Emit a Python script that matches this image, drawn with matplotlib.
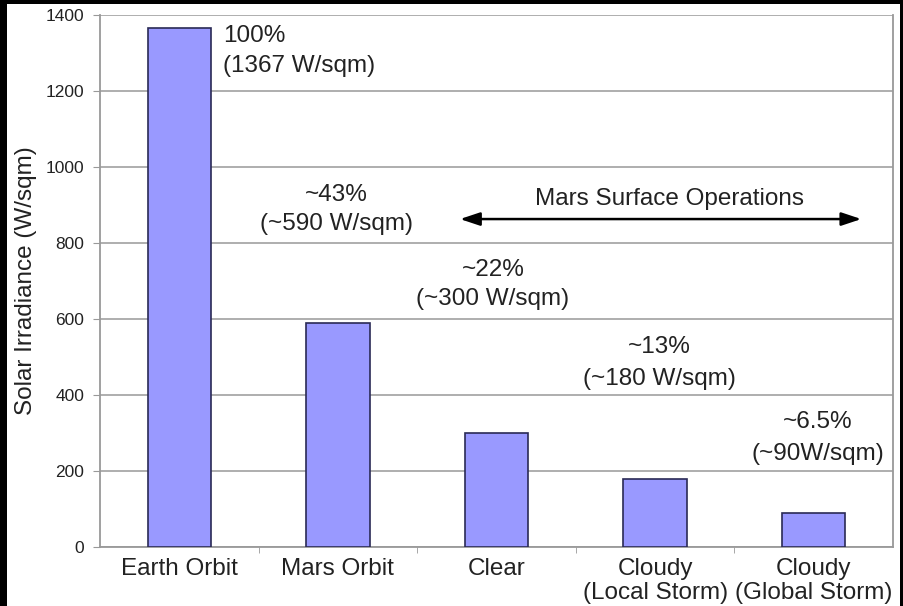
import matplotlib.pyplot as plt
from matplotlib.patches import Rectangle

plt.rcParams['font.family'] = ['Liberation Sans', 'DejaVu Sans']

# bar data
categories = ['Earth Orbit', 'Mars Orbit', 'Clear', 'Cloudy\n(Local Storm)', 'Cloudy\n(Global Storm)']
irradiance = [1367, 590, 300, 180, 90]
pct_labels = ['100%', '~43%', '~22%', '~13%', '~6.5%']
wsqm_labels = ['(1367 W/sqm)', '(~590 W/sqm)', '(~300 W/sqm)', '(~180 W/sqm)', '(~90W/sqm)']
yticks = [0, 200, 400, 600, 800, 1000, 1200, 1400]

fig = plt.figure(figsize=(9.04, 6.06), dpi=100, facecolor='black')
# white card inside the black frame
fig.patches.append(Rectangle((7/904, 0), 893/904, 602/606, transform=fig.transFigure,
                             facecolor='white', edgecolor='none', zorder=-10))
ax = fig.add_axes([100/904, 59/606, 793/904, 532/606])
ax.set_facecolor('white')

x = range(len(categories))
ax.bar(x, irradiance, width=0.4, color='#9999ff', edgecolor='#2a2a55', linewidth=1.2, zorder=3)

ax.set_xlim(-0.5, len(categories) - 0.5)
ax.set_ylim(0, 1400)
ax.set_yticks(yticks)
ax.set_yticklabels([str(v) for v in yticks], fontsize=12.5, color='#222222')
ax.yaxis.grid(True, color='#999999', linewidth=1.1, zorder=0)
ax.set_xticks(list(x))
ax.set_xticklabels(categories, fontsize=17.5, linespacing=1.12, color='#222222')
ax.tick_params(axis='x', length=0, pad=8)
ax.set_xticks([i + 0.5 for i in range(len(categories) - 1)], minor=True)
ax.tick_params(axis='x', which='minor', length=4, color='#999999')
ax.tick_params(axis='y', length=5, color='#999999', pad=6.5)
for s in ['top', 'left', 'right', 'bottom']:
    ax.spines[s].set_color('#999999')
    ax.spines[s].set_linewidth(1.3)
ax.spines['top'].set_visible(False)

ax.set_ylabel('Solar Irradiance (W/sqm)', fontsize=17.5, color='#222222')
ax.yaxis.set_label_coords(-63/793, 0.5)

# annotation positions (data coords): x, y of percent line, y of W/sqm line
pct_x = [0.276, 0.993, 1.978, 3.025, 4.027]
pct_y = [1345, 926, 729, 526, 329]
wsqm_y = [1266, 851, 653, 443, 245]
pct_ha = ['left', 'center', 'center', 'center', 'center']
for px, py, wy, ha, p, w in zip(pct_x, pct_y, wsqm_y, pct_ha, pct_labels, wsqm_labels):
    ax.text(px, py, p, fontsize=17.5, ha=ha, va='center', color='#222222')
    ax.text(px, wy, w, fontsize=17.5, ha=ha, va='center', color='#222222')

ax.text(3.09, 915, 'Mars Surface Operations', fontsize=17.5, ha='center', va='center', color='#222222')
ax.annotate('', xy=(1.77, 863), xytext=(4.30, 863),
            arrowprops=dict(arrowstyle='<|-|>,head_length=0.75,head_width=0.25', color='black',
                            lw=1.8, mutation_scale=16, shrinkA=0, shrinkB=0))

fig.savefig('out.png', dpi=100, facecolor=fig.get_facecolor())
